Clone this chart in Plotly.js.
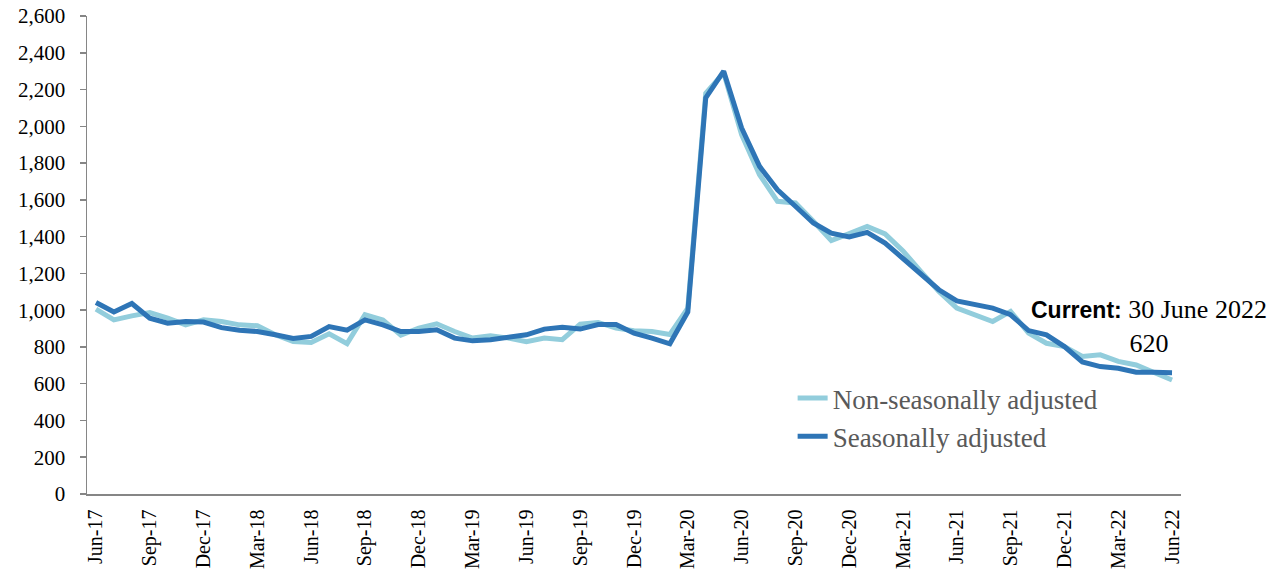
<!DOCTYPE html>
<html>
<head>
<meta charset="utf-8">
<script src="https://cdn.plot.ly/plotly-3.0.1.min.js"></script>
<style>
  html, body { margin: 0; padding: 0; background: #ffffff; }
  #chart { width: 1285px; height: 569px; }
</style>
</head>
<body>
<div id="chart"></div>
<script>
// Monthly categories, June 2017 to June 2022
const months = [
  'Jun-17','Jul-17','Aug-17','Sep-17','Oct-17','Nov-17','Dec-17',
  'Jan-18','Feb-18','Mar-18','Apr-18','May-18','Jun-18','Jul-18','Aug-18','Sep-18','Oct-18','Nov-18','Dec-18',
  'Jan-19','Feb-19','Mar-19','Apr-19','May-19','Jun-19','Jul-19','Aug-19','Sep-19','Oct-19','Nov-19','Dec-19',
  'Jan-20','Feb-20','Mar-20','Apr-20','May-20','Jun-20','Jul-20','Aug-20','Sep-20','Oct-20','Nov-20','Dec-20',
  'Jan-21','Feb-21','Mar-21','Apr-21','May-21','Jun-21','Jul-21','Aug-21','Sep-21','Oct-21','Nov-21','Dec-21',
  'Jan-22','Feb-22','Mar-22','Apr-22','May-22','Jun-22'
];

// Non-seasonally adjusted series
const nonSeasonal = [
  1006, 947, 969, 987, 956, 920, 947,
  938, 920, 915, 866, 829, 824, 871, 818, 975, 947, 864, 902,
  926, 884, 848, 860, 848, 829, 848, 839, 924, 933, 902, 888,
  884, 868, 1011, 2180, 2291, 1955, 1737, 1592, 1583, 1483, 1379, 1416,
  1455, 1415, 1322, 1210, 1102, 1011, 975, 938, 993, 875, 820, 802,
  748, 757, 721, 702, 661, 620
];

// Seasonally adjusted series
const seasonal = [
  1042, 990, 1036, 956, 929, 938, 935,
  905, 891, 884, 866, 846, 857, 911, 891, 947, 920, 884, 884,
  893, 848, 833, 839, 853, 866, 897, 907, 897, 922, 922, 875,
  848, 817, 990, 2155, 2300, 1991, 1782, 1655, 1565, 1474, 1419, 1398,
  1423, 1365, 1281, 1192, 1111, 1050, 1029, 1011, 975, 889, 866, 802,
  718, 693, 684, 662, 662, 660
];

// Quarterly tick labels on the category axis
const tickLabels = [
  'Jun-17','Sep-17','Dec-17','Mar-18','Jun-18','Sep-18','Dec-18','Mar-19','Jun-19',
  'Sep-19','Dec-19','Mar-20','Jun-20','Sep-20','Dec-20','Mar-21','Jun-21','Sep-21',
  'Dec-21','Mar-22','Jun-22'
];

const seriesNames = ['Non-seasonally adjusted', 'Seasonally adjusted'];
const latestDate = '30 June 2022';
const latestValue = nonSeasonal[nonSeasonal.length - 1];

// Tick marks sit on the left boundary of each labelled month
const boundaryTicks = tickLabels.map(m => months.indexOf(m) - 0.5);

const serif = 'Liberation Serif, Times New Roman, serif';
const axisGrey = '#868686';

const traces = [
  {
    x: months, y: nonSeasonal, name: seriesNames[0],
    type: 'scatter', mode: 'lines',
    line: { color: '#92CDDC', width: 5 },
    hoverinfo: 'skip'
  },
  {
    x: months, y: seasonal, name: seriesNames[1],
    type: 'scatter', mode: 'lines',
    line: { color: '#2E75B6', width: 5 },
    hoverinfo: 'skip'
  }
];

const layout = {
  width: 1285, height: 569,
  margin: { l: 87, r: 104, t: 16, b: 75 },
  paper_bgcolor: '#ffffff', plot_bgcolor: '#ffffff',
  separators: '.,',
  showlegend: true,
  legend: {
    x: 0.645, y: 0.251, xanchor: 'left', yanchor: 'top',
    font: { family: serif, size: 27, color: '#595959' },
    bgcolor: 'rgba(0,0,0,0)', tracegroupgap: 0
  },
  xaxis: {
    type: 'category',
    range: [-0.5, months.length - 0.5],
    tickmode: 'array', tickvals: tickLabels, ticktext: tickLabels,
    tickangle: -90, ticks: '',
    ticklabelstandoff: 6,
    tickfont: { family: serif, size: 20, color: '#000000' },
    showline: true, linecolor: axisGrey, linewidth: 1.5,
    showgrid: false, zeroline: false, fixedrange: true
  },
  xaxis2: {
    overlaying: 'x', anchor: 'y', side: 'bottom',
    range: [-0.5, months.length - 0.5],
    tickmode: 'array', tickvals: boundaryTicks,
    ticks: 'outside', ticklen: 6, tickwidth: 1.5, tickcolor: axisGrey,
    showticklabels: false, showline: false, showgrid: false, zeroline: false,
    fixedrange: true
  },
  yaxis: {
    range: [0, 2600], dtick: 200, tick0: 0,
    tickformat: ',d',
    ticks: 'outside', ticklen: 6, tickwidth: 1.5, tickcolor: axisGrey,
    ticklabelstandoff: 10,
    tickfont: { family: serif, size: 21, color: '#000000' },
    showline: true, linecolor: axisGrey, linewidth: 1.5,
    showgrid: false, zeroline: false, fixedrange: true
  },
  annotations: [
    {
      xref: 'paper', yref: 'paper', x: 0.971, y: 0.35,
      xanchor: 'center', yanchor: 'middle', align: 'center',
      showarrow: false,
      text: '<span style="font-family:Liberation Sans, Arial, sans-serif;font-weight:bold;font-size:23px">Current:</span> ' +
            latestDate + '<br>' + latestValue,
      font: { family: serif, size: 26, color: '#000000' }
    }
  ]
};

Plotly.newPlot('chart', traces, layout, { staticPlot: true, displayModeBar: false });
</script>
</body>
</html>
